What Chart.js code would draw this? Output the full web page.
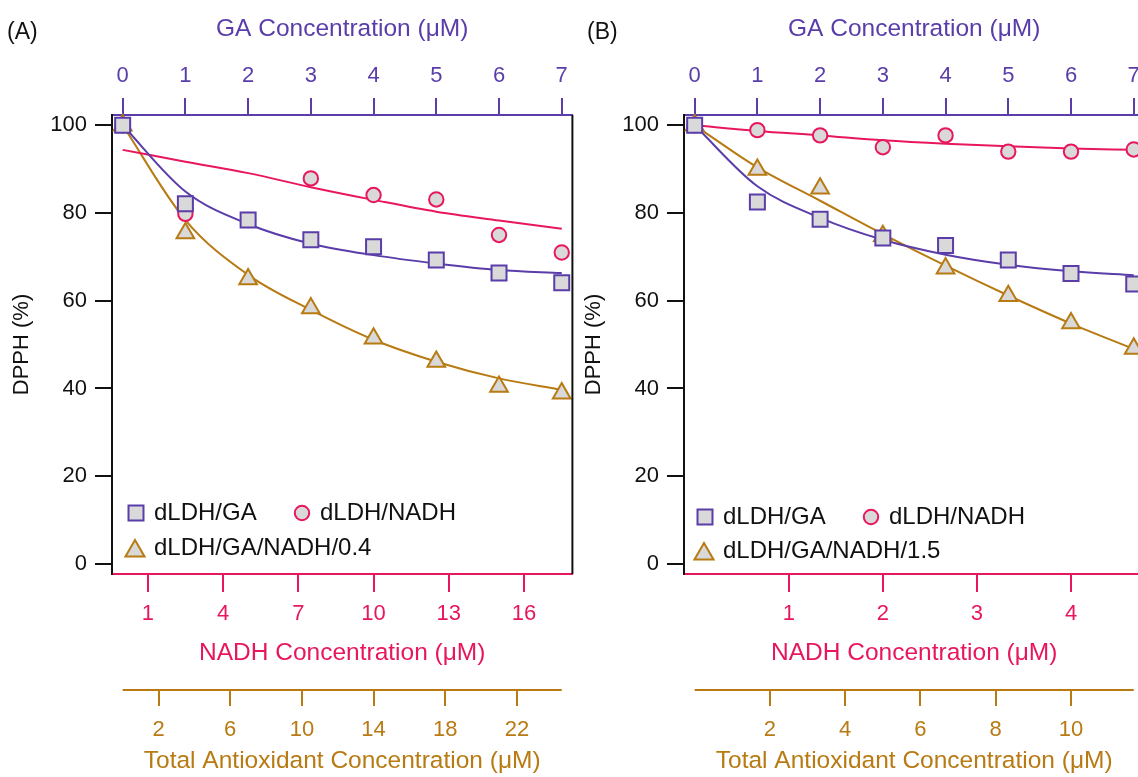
<!DOCTYPE html>
<html><head><meta charset="utf-8">
<script src="https://cdn.jsdelivr.net/npm/chart.js@4"></script>
<style>
html,body{margin:0;padding:0;background:#fff;overflow:hidden;width:1138px;height:777px;position:relative;}
canvas{position:absolute;top:0;}
#ca{left:0}
#cb{left:572px}
.lab{position:absolute;font-family:'Liberation Sans',Arial,sans-serif;font-size:23px;line-height:23px;color:#111;}
</style></head><body>
<canvas id="ca" width="585" height="777"></canvas>
<canvas id="cb" width="585" height="777"></canvas>
<div class="lab" style="left:7px;top:20px">(A)</div>
<div class="lab" style="left:587px;top:20px">(B)</div>
<script>
// ---- data ----
const gaValues = [0, 1, 2, 3, 4, 5, 6, 7];           // GA concentration (µM)
const gaTicks = [0, 1, 2, 3, 4, 5, 6, 7];
const yTicks = [0, 20, 40, 60, 80, 100];

// Panel A (GA : NADH = 0.4)
const aRatio = 2.5;                                   // NADH per GA
const aNadhTicks = [1, 4, 7, 10, 13, 16];
const aTotalTicks = [2, 6, 10, 14, 18, 22];
const aGA   = [100, 82.1, 78.4, 73.9, 72.3, 69.3, 66.3, 64.1];
const aNADH = [100, 79.8, 78.4, 87.9, 84.1, 83.1, 75.0, 71.0];
const aMix  = [100, 75.4, 64.9, 58.3, 51.4, 46.1, 40.4, 38.9];
const aFitGA   = [100, 84.9, 77.5, 73.0, 70.4, 68.5, 67.0, 66.3];
const aFitNADH = [94.4, 91.7, 89.1, 85.9, 83.0, 80.3, 78.3, 76.4];
const aFitMix  = [100, 78.4, 65.9, 57.9, 51.1, 46.1, 42.3, 39.7];

// Panel B (GA : NADH = 1.5)
const bRatio = 1 / 1.5;
const bNadhTicks = [1, 2, 3, 4];
const bTotalTicks = [2, 4, 6, 8, 10];
const bGA   = [100, 82.5, 78.6, 74.3, 72.6, 69.3, 66.2, 63.8];
const bNADH = [100, 98.9, 97.7, 95.0, 97.7, 94.0, 94.0, 94.5];
const bMix  = [100, 89.9, 85.6, 74.8, 67.4, 61.1, 54.9, 49.1];
const bFitGA   = [100, 86.1, 78.9, 73.9, 70.5, 68.2, 66.7, 65.8];
const bFitNADH = [100, 98.7, 97.7, 96.6, 95.8, 95.2, 94.7, 94.4];
const bFitMix  = [100, 90.4, 82.8, 75.2, 68.0, 61.2, 54.8, 49.0];

// ---- styles ----
const PURPLE = '#5a3da9', PINK = '#e8175d', GOLD = '#b87a12', FILL = '#d9d9d9', BLACK = '#111';
const FAM = "'Liberation Sans', Arial, Helvetica, sans-serif";
Chart.defaults.font.family = FAM;

function drawMarker(ctx, style, x, y, r, color) {
  ctx.save();
  ctx.fillStyle = FILL; ctx.strokeStyle = color; ctx.lineWidth = 2;
  ctx.beginPath();
  if (style === 'rect') {
    const s = r * Math.SQRT1_2;
    ctx.rect(x - s, y - s, 2 * s, 2 * s);
  } else if (style === 'circle') {
    ctx.arc(x, y, r, 0, Math.PI * 2);
  } else {
    let a = 0;
    ctx.moveTo(x + Math.sin(a) * r, y - Math.cos(a) * r);
    a += 2 * Math.PI / 3; ctx.lineTo(x + Math.sin(a) * r, y - Math.cos(a) * r);
    a += 2 * Math.PI / 3; ctx.lineTo(x + Math.sin(a) * r, y - Math.cos(a) * r);
    ctx.closePath();
  }
  ctx.fill(); ctx.stroke();
  ctx.restore();
}

const insideLegend = {
  id: 'insideLegend',
  afterDatasetsDraw(chart, args, opts) {
    const {ctx, chartArea} = chart;
    (opts.items || []).forEach(it => {
      const y = chartArea.bottom - it.dy;
      drawMarker(ctx, it.style, chartArea.left + it.dx, y + (it.my || 0), it.r, it.color);
      ctx.save();
      ctx.fillStyle = BLACK;
      ctx.font = '24px ' + FAM;
      ctx.textBaseline = 'middle';
      ctx.textAlign = 'left';
      ctx.fillText(it.text, chartArea.left + it.tx, y);
      ctx.restore();
    });
  }
};

const frameExtras = {
  id: 'frameExtras',
  afterDraw(chart, args, opts) {
    const ctx = chart.ctx, ca = chart.chartArea;
    ctx.save();
    // right frame edge
    ctx.strokeStyle = BLACK; ctx.lineWidth = 2;
    ctx.beginPath(); ctx.moveTo(ca.right, ca.top); ctx.lineTo(ca.right, ca.bottom); ctx.stroke();
    // partial axis line for the total-antioxidant scale
    const s = chart.scales[opts.scale];
    if (s) {
      ctx.strokeStyle = opts.color; ctx.lineWidth = 2;
      ctx.beginPath();
      ctx.moveTo(s.getPixelForValue(opts.from), s.top + 1);
      ctx.lineTo(s.getPixelForValue(opts.to), s.top + 1);
      ctx.stroke();
    }
    ctx.restore();
  }
};

function pts(arr) { return gaValues.map((g, i) => ({x: g, y: arr[i]})); }
function fixTicks(list) { return s => { s.ticks = list.map(v => ({value: v})); }; }

function makePanel(id, p) {
  const gaMin = -0.17, gaMax = 7.17;
  const tot = 1 + p.ratio;
  const common = {xAxisID: 'xGA', yAxisID: 'y'};
  return new Chart(document.getElementById(id), {
    type: 'scatter',
    data: {
      datasets: [
        Object.assign({label: p.labels[0], data: pts(p.ga), pointStyle: 'rect', pointRadius: 10.6,
          borderColor: PURPLE, backgroundColor: FILL, pointBorderWidth: 2, order: 1}, common),
        Object.assign({label: p.labels[1], data: pts(p.nadh), pointStyle: 'circle', pointRadius: 7.2,
          borderColor: PINK, backgroundColor: FILL, pointBorderWidth: 2, order: 2}, common),
        Object.assign({label: p.labels[2], data: pts(p.mix), pointStyle: 'triangle', pointRadius: 10.2,
          borderColor: GOLD, backgroundColor: FILL, pointBorderWidth: 2, order: 3}, common),
        Object.assign({type: 'line', label: 'fit GA', data: pts(p.fitGA), borderColor: PURPLE, borderWidth: 2,
          pointRadius: 0, cubicInterpolationMode: 'monotone', fill: false, order: 4}, common),
        Object.assign({type: 'line', label: 'fit NADH', data: pts(p.fitNADH), borderColor: PINK, borderWidth: 2,
          pointRadius: 0, cubicInterpolationMode: 'monotone', fill: false, order: 5}, common),
        Object.assign({type: 'line', label: 'fit mix', data: pts(p.fitMix), borderColor: GOLD, borderWidth: 2,
          pointRadius: 0, cubicInterpolationMode: 'monotone', fill: false, order: 6}, common)
      ]
    },
    options: {
      responsive: false, animation: false, events: [],
      clip: false,
      layout: {padding: {left: 0, top: 0, bottom: 0, right: 8}},
      plugins: {
        legend: {display: false}, tooltip: {enabled: false},
        insideLegend: {items: p.legend},
        frameExtras: {scale: 'xTotal', from: 0, to: 7 * tot, color: GOLD}
      },
      scales: {
        xGA: {
          type: 'linear', position: 'top', min: gaMin, max: gaMax,
          afterBuildTicks: fixTicks(gaTicks), afterFit: s => { s.height = 115; },
          grid: {drawOnChartArea: false, drawTicks: true, tickLength: 17, color: PURPLE, lineWidth: 2},
          border: {color: PURPLE, width: 2},
          ticks: {color: PURPLE, font: {size: 22, lineHeight: 2.02}, padding: 0, maxRotation: 0, autoSkip: false},
          title: {display: true, text: 'GA Concentration (\u03BCM)', color: PURPLE, font: {size: 24.5}, padding: {top: 15, bottom: 0}}
        },
        xNADH: {
          type: 'linear', position: 'bottom', weight: 0, min: gaMin * p.ratio, max: gaMax * p.ratio,
          afterBuildTicks: fixTicks(p.nadhTicks), afterFit: s => { s.height = 115; },
          grid: {drawOnChartArea: false, drawTicks: true, tickLength: 18, color: PINK, lineWidth: 2},
          border: {color: PINK, width: 2},
          ticks: {color: PINK, font: {size: 22}, padding: 9, maxRotation: 0, autoSkip: false},
          title: {display: true, text: 'NADH Concentration (\u03BCM)', color: PINK, font: {size: 24.5}, padding: {top: 0, bottom: 21}}
        },
        xTotal: {
          type: 'linear', position: 'bottom', weight: 1, min: gaMin * tot, max: gaMax * tot,
          afterBuildTicks: fixTicks(p.totalTicks), afterFit: s => { s.height = 88; },
          grid: {drawOnChartArea: false, drawTicks: true, tickLength: 17, color: GOLD, lineWidth: 2},
          border: {display: false},
          ticks: {color: GOLD, font: {size: 22}, padding: 11, maxRotation: 0, autoSkip: false},
          title: {display: true, text: 'Total Antioxidant Concentration (\u03BCM)', color: GOLD, font: {size: 24.5}, padding: {top: 0, bottom: 1}}
        },
        y: {
          type: 'linear', position: 'left', min: -2.3, max: 102.35,
          afterBuildTicks: fixTicks(yTicks), afterFit: s => { s.width = 112; },
          grid: {drawOnChartArea: false, drawTicks: true, tickLength: 17, color: BLACK, lineWidth: 2},
          border: {color: BLACK, width: 2},
          ticks: {color: BLACK, font: {size: 22}, padding: 8, autoSkip: false},
          title: {display: true, text: 'DPPH (%)', color: BLACK, font: {size: 22}, padding: {top: 9, bottom: 0}}
        }
      }
    },
    plugins: [insideLegend, frameExtras]
  });
}

makePanel('ca', {
  ratio: aRatio, nadhTicks: aNadhTicks, totalTicks: aTotalTicks,
  ga: aGA, nadh: aNADH, mix: aMix, fitGA: aFitGA, fitNADH: aFitNADH, fitMix: aFitMix,
  labels: ['dLDH/GA', 'dLDH/NADH', 'dLDH/GA/NADH/0.4'],
  legend: [
    {style: 'rect', r: 10.6, color: PURPLE, dx: 24, dy: 61, tx: 42, text: 'dLDH/GA'},
    {style: 'circle', r: 7.2, color: PINK, dx: 190, dy: 61, tx: 208, text: 'dLDH/NADH'},
    {style: 'triangle', r: 11, color: GOLD, dx: 23, dy: 26, my: 3, tx: 42, text: 'dLDH/GA/NADH/0.4'}
  ]
});
makePanel('cb', {
  ratio: bRatio, nadhTicks: bNadhTicks, totalTicks: bTotalTicks,
  ga: bGA, nadh: bNADH, mix: bMix, fitGA: bFitGA, fitNADH: bFitNADH, fitMix: bFitMix,
  labels: ['dLDH/GA', 'dLDH/NADH', 'dLDH/GA/NADH/1.5'],
  legend: [
    {style: 'rect', r: 10.6, color: PURPLE, dx: 21, dy: 57, tx: 39, text: 'dLDH/GA'},
    {style: 'circle', r: 7.2, color: PINK, dx: 187, dy: 57, tx: 205, text: 'dLDH/NADH'},
    {style: 'triangle', r: 11, color: GOLD, dx: 20, dy: 23, my: 3, tx: 39, text: 'dLDH/GA/NADH/1.5'}
  ]
});
</script></body></html>
